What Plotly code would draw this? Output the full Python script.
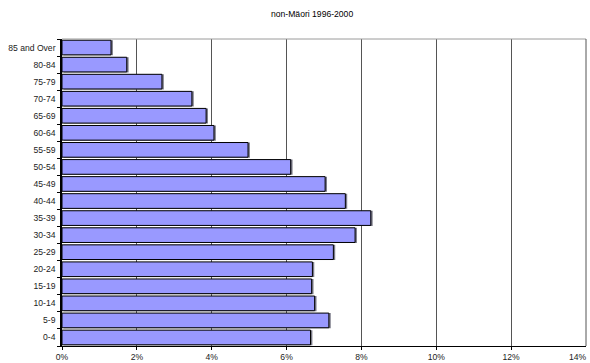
import plotly.graph_objects as go

# Age groups, youngest first (plotted bottom to top)
age_groups = ["0-4", "5-9", "10-14", "15-19", "20-24", "25-29", "30-34",
              "35-39", "40-44", "45-49", "50-54", "55-59", "60-64", "65-69",
              "70-74", "75-79", "80-84", "85 and Over"]

# Share of the non-Maori population in each age group (percent)
share_pct = [6.64, 7.13, 6.75, 6.67, 6.69, 7.25, 7.83,
             8.25, 7.57, 7.03, 6.11, 4.97, 4.06, 3.85,
             3.47, 2.67, 1.73, 1.31]

x_ticks = [0, 0.02, 0.04, 0.06, 0.08, 0.10, 0.12, 0.14]
title_text = "non-Mäori 1996-2000"

share = [v / 100 for v in share_pct]

FONT = "Liberation Sans, Arial, sans-serif"
FS = 8.6

W, H = 590, 363
ML, MR, MT, MB = 62, 4, 39, 17
PW, PH = W - ML - MR, H - MT - MB

fig = go.Figure()

# drop shadow behind each bar
fig.add_trace(go.Bar(
    y=age_groups, x=share, base=0.0005, orientation="h",
    offset=-0.46, width=0.89,
    marker=dict(color="#7a7a88", line=dict(width=0)),
    hoverinfo="skip", showlegend=False,
))
fig.add_trace(go.Bar(
    y=age_groups, x=share, orientation="h",
    offset=-0.43, width=0.86,
    marker=dict(color="#9999FF", line=dict(color="#000000", width=1)),
    showlegend=False,
))

annotations = [dict(
    text=title_text, x=(312 - ML) / PW, xref="paper",
    y=1 + (MT - 14) / PH, yref="paper", xanchor="center", yanchor="middle",
    showarrow=False, font=dict(family=FONT, size=FS, color="#000000"),
)]
# last tick label, pulled in so it stays on the page
annotations.append(dict(
    text="14%", x=(W - 1 - ML) / PW, xref="paper",
    y=-(356.5 - (MT + PH)) / PH, yref="paper",
    xanchor="right", yanchor="middle", showarrow=False,
    font=dict(family=FONT, size=FS, color="#222222"),
))

fig.update_layout(
    width=W, height=H,
    margin=dict(l=ML, r=MR, t=MT, b=MB, autoexpand=False),
    paper_bgcolor="white", plot_bgcolor="white",
    barmode="overlay",
    font=dict(family=FONT, size=FS, color="#000000"),
    annotations=annotations,
)

fig.update_xaxes(
    range=[0, 0.14], tickvals=x_ticks[:-1], tickformat=".0%",
    showgrid=True, gridcolor="#555555", gridwidth=1,
    showline=True, linecolor="#000000", linewidth=1,
    ticks="outside", ticklen=3, tickcolor="#000000", ticklabelstandoff=0,
    tickfont=dict(family=FONT, size=FS, color="#222222"),
    zeroline=False, fixedrange=True, automargin=False,
)
fig.update_yaxes(
    type="category", categoryorder="array", categoryarray=age_groups,
    range=[-0.5, len(age_groups) - 0.5],
    showgrid=False, showline=True, linecolor="#000000", linewidth=1.5,
    ticks="outside", ticklen=3, tickcolor="#000000", tickson="boundaries",
    ticklabelstandoff=3,
    tickfont=dict(family=FONT, size=FS, color="#222222"),
    fixedrange=True, automargin=False,
)

# frame along the top and right of the plot area
fig.add_shape(type="line", xref="paper", yref="paper", x0=0, x1=1, y0=1, y1=1,
              line=dict(color="#9a9a9a", width=1))
fig.add_shape(type="line", xref="paper", yref="paper", x0=1, x1=1, y0=0, y1=1,
              line=dict(color="#555555", width=1))

fig.write_html("out.html")
